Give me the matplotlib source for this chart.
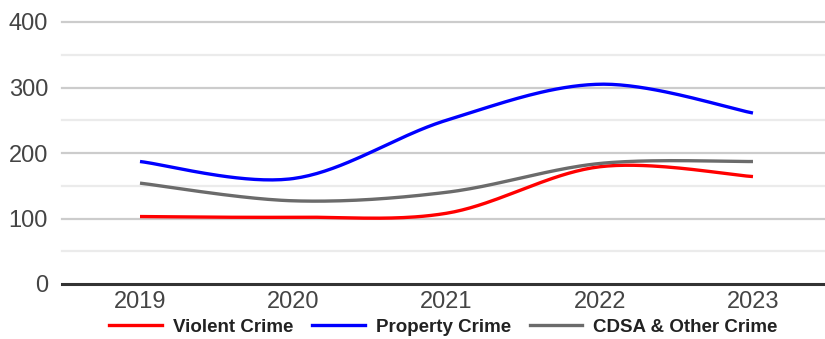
import numpy as np
import matplotlib
matplotlib.use("Agg")
import matplotlib.pyplot as plt
from matplotlib.lines import Line2D

years = ["2019", "2020", "2021", "2022", "2023"]
violent = [103, 102, 108, 179, 164]
property_crime = [187, 161, 250, 305, 261]
cdsa_other = [154, 127, 140, 184, 187]

series_names = ["Violent Crime", "Property Crime", "CDSA & Other Crime"]
series_colors = ["#ff0000", "#0000ff", "#6b6b6b"]

plt.rcParams["font.family"] = ["Liberation Sans", "DejaVu Sans"]


def smooth(y, n=40, k=1/6):
    """Cubic Bezier smoothing through every point (Catmull-Rom style)."""
    x = np.arange(len(y), dtype=float)
    y = np.asarray(y, dtype=float)
    px = np.concatenate([[x[0]], x, [x[-1]]])
    py = np.concatenate([[y[0]], y, [y[-1]]])
    xs, ys = [], []
    for i in range(len(y) - 1):
        p0 = np.array([px[i], py[i]])
        p1 = np.array([px[i + 1], py[i + 1]])
        p2 = np.array([px[i + 2], py[i + 2]])
        p3 = np.array([px[i + 3], py[i + 3]])
        c1 = p1 + (p2 - p0) * k
        c2 = p2 - (p3 - p1) * k
        t = np.linspace(0, 1, n)[:, None]
        b = ((1 - t) ** 3) * p1 + 3 * ((1 - t) ** 2) * t * c1 + 3 * (1 - t) * t ** 2 * c2 + t ** 3 * p2
        xs.append(b[:, 0])
        ys.append(b[:, 1])
    return np.concatenate(xs), np.concatenate(ys)


W, H = 825, 339
fig = plt.figure(figsize=(W / 100, H / 100), dpi=100)
ax = fig.add_axes([62 / W, (H - 284) / H, (W - 62) / W, (284 - 22) / H])

# gridlines
for v in range(50, 400, 100):
    ax.axhline(v, color="#ebebeb", lw=1.6, zorder=0, clip_on=False)
for v in range(100, 401, 100):
    ax.axhline(v, color="#cccccc", lw=1.6, zorder=0, clip_on=False)
ax.axhline(0, color="#333333", lw=2.2, zorder=3, clip_on=False)

for vals, color in zip([violent, property_crime, cdsa_other], series_colors):
    sx, sy = smooth(vals)
    ax.plot(sx, sy, color=color, lw=2.4, solid_capstyle="butt", zorder=4)

ax.set_xlim(-0.509, 4.47)
ax.set_ylim(0, 400)
ax.set_xticks(range(len(years)))
ax.set_xticklabels(years)
ax.set_yticks(range(0, 401, 100))
ax.tick_params(axis="both", length=0, labelsize=17, colors="#444444")
ax.tick_params(axis="y", pad=10)
ax.tick_params(axis="x", pad=5)
for s in ax.spines.values():
    s.set_visible(False)

handles = [Line2D([0], [0], color=c, lw=2.4) for c in series_colors]
leg = fig.legend(handles, series_names, loc="center",
                 bbox_to_anchor=((62 + 825) / 2 / W, 1 - 327 / H),
                 ncol=3, frameon=False, handlelength=2.8, handletextpad=0.6,
                 columnspacing=1.0,
                 prop={"weight": "bold", "size": 13.5})
for t in leg.get_texts():
    t.set_color("#222222")

fig.savefig("out.png", dpi=100)
